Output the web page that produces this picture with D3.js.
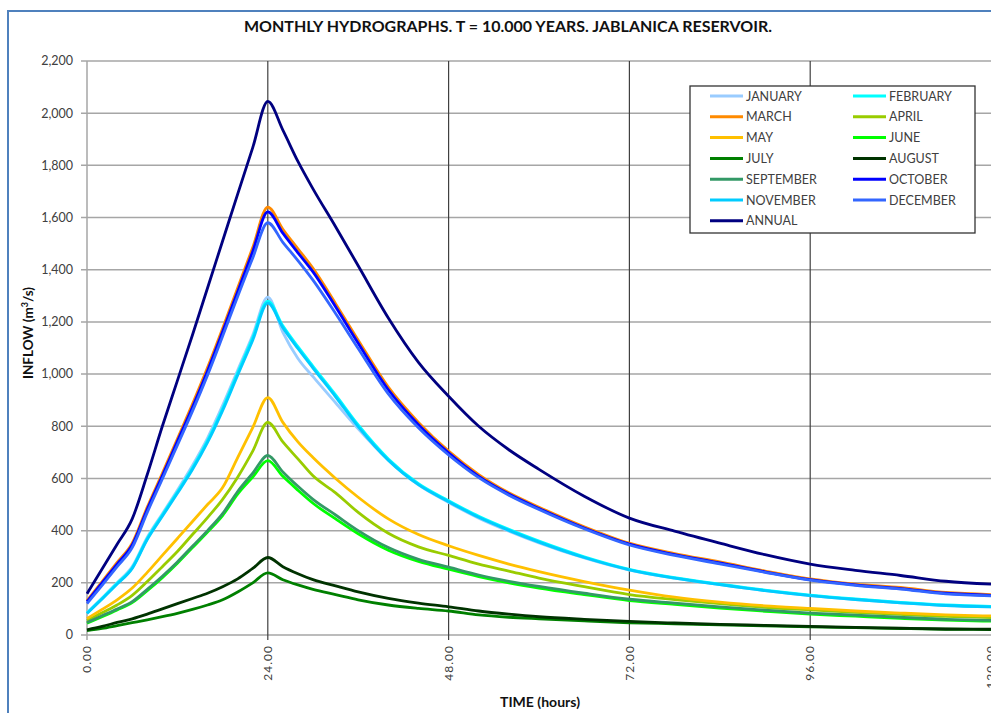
<!DOCTYPE html>
<html><head><meta charset="utf-8">
<script src="https://cdn.jsdelivr.net/npm/d3@7"></script>
<style>
body{margin:0;background:#fff;}
svg{display:block;font-family:Lato,"Open Sans",sans-serif;}
</style>
</head><body>
<svg id="chart" width="991" height="713"></svg>
<script>
// ---------------- DATA ----------------
const hours = [0,2,4,6,8,10,12,14,16,18,20,22,24,26,28,30,33,36,40,44,48,52,56,60,66,72,78,84,90,96,102,108,114,120];

const january   = [85,142,200,262,375,465,555,650,755,880,1015,1150,1295,1160,1060,990,890,790,670,575,508,448,398,353,295,249,218,193,170,151,136,123,113,108];
const february  = [84,140,198,258,370,460,548,640,745,868,1005,1140,1280,1185,1105,1030,920,805,675,580,515,455,405,360,300,252,220,195,172,153,138,125,115,110];
const march     = [132,205,278,352,490,620,752,885,1025,1175,1330,1485,1640,1555,1480,1405,1270,1130,950,815,705,615,545,490,415,352,312,280,245,215,195,182,163,155];
const april     = [55,85,115,152,205,262,320,385,450,520,605,705,815,740,675,610,545,470,390,338,305,272,245,218,185,155,136,120,106,96,87,79,71,67];
const may       = [63,98,135,180,240,305,370,435,500,565,680,795,910,815,740,680,600,528,445,385,342,305,272,243,205,172,145,126,112,102,92,84,77,73];
const june      = [45,70,96,124,170,220,275,335,395,458,540,605,668,608,555,505,445,388,325,282,252,224,200,180,155,132,117,103,91,80,72,64,57,53];
const july      = [17,25,36,47,58,70,83,98,115,135,165,200,238,212,192,175,155,135,115,102,92,77,68,62,54,47,43,39,35,31,28,25,22,21];
const august    = [20,33,48,62,80,100,120,140,160,185,215,255,297,262,235,212,188,165,140,122,108,92,80,70,60,52,46,41,37,33,29,26,23,22];
const september = [48,74,100,128,175,225,280,340,400,465,550,620,688,625,570,520,460,400,335,290,260,230,206,186,160,137,122,108,95,84,76,68,60,56];
const october   = [128,200,272,345,482,610,742,873,1012,1162,1316,1470,1622,1540,1465,1392,1258,1118,940,806,698,608,540,485,410,348,308,276,242,212,192,178,160,152];
const november  = [82,138,195,255,366,455,543,634,738,860,996,1130,1272,1178,1098,1023,913,799,670,576,511,451,401,356,297,250,218,193,170,151,136,123,113,108];
const december  = [120,190,262,335,470,598,728,858,996,1145,1297,1445,1580,1505,1435,1360,1232,1098,924,794,690,603,536,481,407,345,305,273,240,210,190,176,158,150];
const annual    = [158,253,348,445,615,800,975,1150,1330,1510,1690,1868,2045,1935,1815,1710,1565,1415,1215,1045,915,800,710,635,532,448,398,352,308,272,248,228,206,195];

const seriesNames = ["JANUARY","FEBRUARY","MARCH","APRIL","MAY","JUNE","JULY","AUGUST","SEPTEMBER","OCTOBER","NOVEMBER","DECEMBER","ANNUAL"];
const seriesValues = [january,february,march,april,may,june,july,august,september,october,november,december,annual];
const seriesColors = ["#99CCFF","#00FFFF","#FF8A00","#99CC00","#FFC000","#00FF00","#008000","#003300","#339966","#0000FF","#00CCFF","#3366FF","#000080"];

const yTicks = [0,200,400,600,800,1000,1200,1400,1600,1800,2000,2200];
const xTicks = [0,24,48,72,96,120];

const titleText = "MONTHLY HYDROGRAPHS. T = 10.000 YEARS. JABLANICA RESERVOIR.";
const xTitle = "TIME (hours)";

// ---------------- DRAW ----------------
const svg = d3.select("#chart");
const x = d3.scaleLinear().domain([0,120]).range([87,991]);
const y = d3.scaleLinear().domain([0,2200]).range([635,61]);

// outer frame
svg.append("rect").attr("x",8).attr("y",11).attr("width",1000).attr("height",720)
  .attr("fill","none").attr("stroke","#4F81BD").attr("stroke-width",2);

// title
svg.append("text").attr("x",508).attr("y",32).attr("text-anchor","middle")
  .attr("font-size",14.5).attr("font-weight","bold").attr("fill","#111")
  .attr("textLength",528).attr("lengthAdjust","spacingAndGlyphs").text(titleText);

// horizontal gridlines
svg.append("g").selectAll("line").data(yTicks).join("line")
  .attr("x1",x(0)-6).attr("x2",x(120)).attr("y1",d=>y(d)).attr("y2",d=>y(d))
  .attr("stroke","#A6A6A6").attr("stroke-width",1.5);

// vertical gridlines
svg.append("g").selectAll("line").data(xTicks.filter(d=>d>0&&d<120)).join("line")
  .attr("x1",d=>x(d)).attr("x2",d=>x(d)).attr("y1",y(2200)).attr("y2",y(0)+5)
  .attr("stroke","#404040").attr("stroke-width",1.2);

// y axis line
svg.append("line").attr("x1",x(0)).attr("x2",x(0)).attr("y1",y(2200)).attr("y2",y(0)+5)
  .attr("stroke","#A6A6A6").attr("stroke-width",1.5);

// y labels
svg.append("g").selectAll("text").data(yTicks).join("text")
  .attr("x",73).attr("y",d=>y(d)).attr("dy","0.35em").attr("text-anchor","end")
  .attr("font-size",12.5).attr("fill","#404040").text(d=>d3.format(",")(d));

// x labels
svg.append("g").selectAll("text").data(xTicks).join("text")
  .attr("transform",d=>`translate(${x(d)},645) rotate(-90)`)
  .attr("dy","0.35em").attr("text-anchor","end").attr("letter-spacing","1px")
  .attr("font-size",12).attr("fill","#404040").text(d=>d3.format(".2f")(d));

// axis titles
svg.append("text").attr("x",540).attr("y",707).attr("text-anchor","middle")
  .attr("font-size",13.5).attr("font-weight","bold").attr("fill","#111")
  .attr("textLength",80).attr("lengthAdjust","spacingAndGlyphs").text(xTitle);
const yt = svg.append("text").attr("transform","translate(33,333) rotate(-90)")
  .attr("text-anchor","middle").attr("font-size",13.5).attr("font-weight","bold").attr("fill","#111");
yt.append("tspan").text("INFLOW (m");
yt.append("tspan").attr("dy","-5").attr("font-size",9).text("3");
yt.append("tspan").attr("dy","5").text("/s)");

// series lines
const line = d3.line().x((d,i)=>x(hours[i])).y(d=>y(d)).curve(d3.curveMonotoneX);
svg.append("g").selectAll("path").data(seriesValues).join("path")
  .attr("d",d=>line(d)).attr("fill","none")
  .attr("stroke",(d,i)=>seriesColors[i]).attr("stroke-width",2.8)
  .attr("stroke-linejoin","round");

// legend
const lg = svg.append("g");
lg.append("rect").attr("x",690).attr("y",86).attr("width",285).attr("height",147)
  .attr("fill","#fff").attr("stroke","#333").attr("stroke-width",1.3);
seriesNames.forEach((name,i)=>{
  const col = i%2, row = Math.floor(i/2);
  const lx = col===0 ? 710 : 853;
  const ly = 96 + row*20.8;
  lg.append("line").attr("x1",lx).attr("x2",lx+33).attr("y1",ly).attr("y2",ly)
    .attr("stroke",seriesColors[i]).attr("stroke-width",3);
  lg.append("text").attr("x",lx+36).attr("y",ly).attr("dy","0.36em")
    .attr("font-size",12.5).attr("fill","#404040").text(name);
});
</script>
</body></html>
